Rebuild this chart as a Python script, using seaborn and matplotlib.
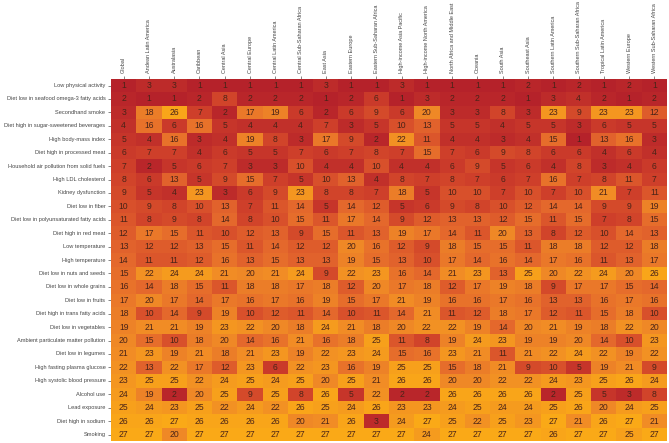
import numpy as np
import pandas as pd
import matplotlib
matplotlib.use("Agg")
import matplotlib.pyplot as plt
from matplotlib.colors import LinearSegmentedColormap
import seaborn as sns

regions = ["Global", "Andean Latin America", "Australasia", "Caribbean", "Central Asia",
           "Central Europe", "Central Latin America", "Central Sub-Saharan Africa", "East Asia",
           "Eastern Europe", "Eastern Sub-Saharan Africa", "High-income Asia Pacific",
           "High-income North America", "North Africa and Middle East", "Oceania", "South Asia",
           "Southeast Asia", "Southern Latin America", "Southern Sub-Saharan Africa",
           "Tropical Latin America", "Western Europe", "Western Sub-Saharan Africa"]

risks = ["Low physical activity", "Diet low in seafood omega-3 fatty acids", "Secondhand smoke",
         "Diet high in sugar-sweetened beverages", "High body-mass index",
         "Diet high in processed meat", "Household air pollution from solid fuels",
         "High LDL cholesterol", "Kidney dysfunction", "Diet low in fiber",
         "Diet low in polyunsaturated fatty acids", "Diet high in red meat", "Low temperature",
         "High temperature", "Diet low in nuts and seeds", "Diet low in whole grains",
         "Diet low in fruits", "Diet high in trans fatty acids", "Diet low in vegetables",
         "Ambient particulate matter pollution", "Diet low in legumes",
         "High fasting plasma glucose", "High systolic blood pressure", "Alcohol use",
         "Lead exposure", "Diet high in sodium", "Smoking"]

r01 = [1, 3, 3, 1, 1, 1, 1, 1, 3, 1, 1, 3, 1, 1, 1, 1, 2, 1, 2, 1, 2, 1]
r02 = [2, 1, 1, 2, 8, 2, 2, 2, 1, 2, 6, 1, 3, 2, 2, 2, 1, 3, 4, 2, 1, 2]
r03 = [3, 18, 26, 7, 2, 17, 19, 6, 2, 6, 9, 6, 20, 3, 3, 8, 3, 23, 9, 23, 23, 12]
r04 = [4, 16, 6, 16, 5, 4, 4, 4, 7, 3, 5, 10, 13, 5, 5, 4, 5, 5, 3, 6, 5, 5]
r05 = [5, 4, 16, 3, 4, 19, 8, 3, 17, 9, 2, 22, 11, 4, 4, 3, 4, 15, 1, 13, 16, 3]
r06 = [6, 7, 7, 4, 6, 5, 5, 7, 6, 7, 8, 7, 15, 7, 6, 9, 8, 6, 6, 4, 6, 4]
r07 = [7, 2, 5, 6, 7, 3, 3, 10, 4, 4, 10, 4, 4, 6, 9, 5, 6, 4, 8, 3, 4, 6]
r08 = [8, 6, 13, 5, 9, 15, 7, 5, 10, 13, 4, 8, 7, 8, 7, 6, 7, 16, 7, 8, 11, 7]
r09 = [9, 5, 4, 23, 3, 6, 9, 23, 8, 8, 7, 18, 5, 10, 10, 7, 10, 7, 10, 21, 7, 11]
r10 = [10, 9, 8, 10, 13, 7, 11, 14, 5, 14, 12, 5, 6, 9, 8, 10, 12, 14, 14, 9, 9, 19]
r11 = [11, 8, 9, 8, 14, 8, 10, 15, 11, 17, 14, 9, 12, 13, 13, 12, 15, 11, 15, 7, 8, 15]
r12 = [12, 17, 15, 11, 10, 12, 13, 9, 15, 11, 13, 19, 17, 14, 11, 20, 13, 8, 12, 10, 14, 13]
r13 = [13, 12, 12, 13, 15, 11, 14, 12, 12, 20, 16, 12, 9, 18, 15, 15, 11, 18, 18, 12, 12, 18]
r14 = [14, 11, 11, 12, 16, 13, 15, 13, 13, 19, 15, 13, 10, 17, 14, 16, 14, 17, 16, 11, 13, 17]
r15 = [15, 22, 24, 24, 21, 20, 21, 24, 9, 22, 23, 16, 14, 21, 23, 13, 25, 20, 22, 24, 20, 26]
r16 = [16, 14, 18, 15, 11, 18, 18, 17, 18, 12, 20, 17, 18, 12, 17, 19, 18, 9, 17, 17, 15, 14]
r17 = [17, 20, 17, 14, 17, 16, 17, 16, 19, 15, 17, 21, 19, 16, 16, 17, 16, 13, 13, 16, 17, 16]
r18 = [18, 10, 14, 9, 19, 10, 12, 11, 14, 10, 11, 14, 21, 11, 12, 18, 17, 12, 11, 15, 18, 10]
r19 = [19, 21, 21, 19, 23, 22, 20, 18, 24, 21, 18, 20, 22, 22, 19, 14, 20, 21, 19, 18, 22, 20]
r20 = [20, 15, 10, 18, 20, 14, 16, 21, 16, 18, 25, 11, 8, 19, 24, 23, 19, 19, 20, 14, 10, 23]
r21 = [21, 23, 19, 21, 18, 21, 23, 19, 22, 23, 24, 15, 16, 23, 21, 11, 21, 22, 24, 22, 19, 22]
r22 = [22, 13, 22, 17, 12, 23, 6, 22, 23, 16, 19, 25, 25, 15, 18, 21, 9, 10, 5, 19, 21, 9]
r23 = [23, 25, 25, 22, 24, 25, 24, 25, 20, 25, 21, 26, 26, 20, 20, 22, 22, 24, 23, 25, 26, 24]
r24 = [24, 19, 2, 20, 25, 9, 25, 8, 26, 5, 22, 2, 2, 26, 26, 26, 26, 2, 25, 5, 3, 8]
r25 = [25, 24, 23, 25, 22, 24, 22, 26, 25, 24, 26, 23, 23, 24, 25, 24, 24, 25, 26, 20, 24, 25]
r26 = [26, 26, 27, 26, 26, 26, 26, 20, 21, 26, 3, 24, 27, 25, 22, 25, 23, 27, 21, 26, 27, 21]
r27 = [27, 27, 20, 27, 27, 27, 27, 27, 27, 27, 27, 27, 24, 27, 27, 27, 27, 26, 27, 27, 25, 27]

rows = [r01, r02, r03, r04, r05, r06, r07, r08, r09, r10, r11, r12, r13, r14,
        r15, r16, r17, r18, r19, r20, r21, r22, r23, r24, r25, r26, r27]
df = pd.DataFrame(rows, index=risks, columns=regions)

sns.set_theme(style="white")
plt.rcParams['font.family'] = ['Liberation Sans', 'DejaVu Sans']

cmap = LinearSegmentedColormap.from_list(
    "rank", ["#b5222a", "#d0412a", "#e4682c", "#f08a26", "#faa917"])

fig = plt.figure(figsize=(6.69, 4.43), dpi=100)
ax = fig.add_axes([0.166, 0.004, 0.831, 0.818])
sns.heatmap(df, ax=ax, cmap=cmap, vmin=1, vmax=27, cbar=False, annot=True, fmt="d",
            annot_kws={"fontsize": 6.2, "color": "#4a2418"}, linewidths=0,
            xticklabels=True, yticklabels=True)
ax.xaxis.tick_top()
ax.xaxis.set_label_position("top")
ax.set_xlabel("")
ax.set_ylabel("")
ax.set_xticklabels(regions, rotation=90, fontsize=4.0, color="#444444")
ax.set_yticklabels(risks, rotation=0, fontsize=4.1, color="#444444")
ax.tick_params(axis="both", which="both", length=2, width=0.5, color="#555555", pad=2,
               left=True, top=True, bottom=False)
fig.savefig("out.png", dpi=100)
